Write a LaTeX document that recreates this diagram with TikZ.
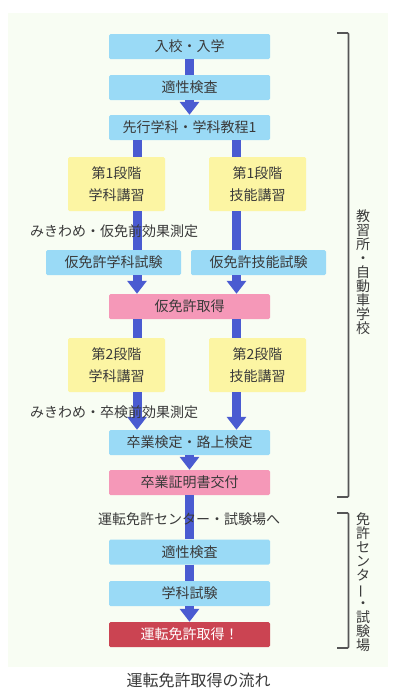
\documentclass[tikz,border=0pt]{standalone}
\usepackage{fontspec}
\setmainfont{Noto Sans CJK JP}
\usepackage{tikz}
\usetikzlibrary{arrows.meta}
\usetikzlibrary{positioning}
\definecolor{bgpanel}{HTML}{F8FDF3}
\definecolor{mblue}{HTML}{9ADAF6}
\definecolor{myellow}{HTML}{FCF5A3}
\definecolor{mpink}{HTML}{F598B8}
\definecolor{mred}{HTML}{CB4452}
\definecolor{barblue}{HTML}{4A5BD1}
\definecolor{mtext}{HTML}{3A3A3A}
\definecolor{mgray}{HTML}{555555}
\tikzset{box/.style = {minimum width=161pt, minimum height=25pt, inner sep=0pt,
                       rounded corners=1.5pt, text=mtext,
                       font=\fontsize{14}{22}\selectfont},
         bluebox/.style = {box, fill=mblue},
         pinkbox/.style = {box, fill=mpink},
         exambox/.style = {box, fill=mblue, minimum width=135pt},
         stagebox/.style = {box, fill=myellow, minimum width=97pt,
                            minimum height=54pt, align=center},
         bar/.style = {draw=barblue, line width=9pt},
         arr/.style = {bar, -{Triangle[width=19pt, length=13pt]}},
         lbl/.style = {text=mtext, inner sep=0pt, font=\fontsize{14}{14}\selectfont},
         brk/.style = {draw=mgray, line width=1.6pt, rounded corners=1pt}}

\begin{document}
\begin{tikzpicture}[x=1pt, y=-1pt]
      \useasboundingbox (0, 0) rectangle (420, 699);
      \fill [bgpanel] (8, 13) rectangle (388, 667);

      \node [bluebox] (nyugaku) at (189.5, 46.5) {入校・入学};
      \node [bluebox] (tekisei) at (189.5, 87.5) {適性検査};
      \node [bluebox] (senko) at (189.5, 127.5) {先行学科・学科教程1};
      \node [stagebox] (gakka1) at (116.5, 184) {第1段階\\学科講習};
      \node [stagebox] (gino1) at (257.5, 184) {第1段階\\技能講習};
      \node [exambox] (karigakka) at (113.5, 262.5) {仮免許学科試験};
      \node [exambox] (karigino) at (258.5, 262.5) {仮免許技能試験};
      \node [pinkbox] (karimen) at (189.5, 306.5) {仮免許取得};
      \node [stagebox] (gakka2) at (116.5, 365) {第2段階\\学科講習};
      \node [stagebox] (gino2) at (257.5, 365) {第2段階\\技能講習};
      \node [bluebox] (sotsuken) at (189.5, 442.5) {卒業検定・路上検定};
      \node [pinkbox] (shomei) at (189.5, 482.5) {卒業証明書交付};
      \node [bluebox] (tekisei2) at (189.5, 552) {適性検査};
      \node [bluebox] (gakkashiken) at (189.5, 593.5) {学科試験};
      \node [box, fill=mred, text=white] (menkyo) at (189.5, 634.5) {運転免許取得！};

      % bar positions
      \coordinate (lx) at (137, 0);
      \coordinate (rx) at (236.5, 0);

      \draw [bar] (nyugaku) -- (tekisei);
      \draw [arr] (tekisei) -- (senko);
      \draw [bar] (senko.south -| lx) -- (gakka1.north -| lx);
      \draw [bar] (senko.south -| rx) -- (gino1.north -| rx);
      \draw [bar] (gakka1.south -| lx) -- (karigakka.north -| lx);
      \draw [bar] (gino1.south -| rx) -- (karigino.north -| rx);
      \draw [arr] (karigakka.south -| lx) -- (karimen.north -| lx);
      \draw [arr] (karigino.south -| rx) -- (karimen.north -| rx);
      \draw [bar] (karimen.south -| lx) -- (gakka2.north -| lx);
      \draw [bar] (karimen.south -| rx) -- (gino2.north -| rx);
      \draw [arr] (gakka2.south -| lx) -- (sotsuken.north -| lx);
      \draw [arr] (gino2.south -| rx) -- (sotsuken.north -| rx);
      \draw [arr] (sotsuken) -- (shomei);
      \draw [bar] (shomei) -- (tekisei2);
      \draw [bar] (tekisei2) -- (gakkashiken);
      \draw [arr] (gakkashiken) -- (menkyo);

      \node [lbl, anchor=west] (mikiwame1) at (30, 231) {みきわめ・仮免前効果測定};
      \node [lbl, anchor=west] (mikiwame2) at (30, 412) {みきわめ・卒検前効果測定};
      \node [lbl] (center) at (189, 519) {運転免許センター・試験場へ};

      % brackets on the right
      \draw [brk] (337, 33) -- (348.5, 33) -- (348.5, 497) -- (337, 497);
      \draw [brk] (337, 513) -- (348.5, 513) -- (348.5, 648) -- (337, 648);
      \node [lbl, align=center] (kyoshujo) at (363, 272.5)
        {教\\習\\所\\・\\自\\動\\車\\学\\校};
      \node [lbl, align=center] (shikenjo) at (363, 582)
        {免\\許\\セ\\ン\\タ\\\rotatebox[origin=c]{90}{ー}\\・\\試\\験\\場};

      \node [text=mtext, font=\fontsize{16}{16}\selectfont] (caption) at (198.5, 680)
        {運転免許取得の流れ};
\end{tikzpicture}
\end{document}
